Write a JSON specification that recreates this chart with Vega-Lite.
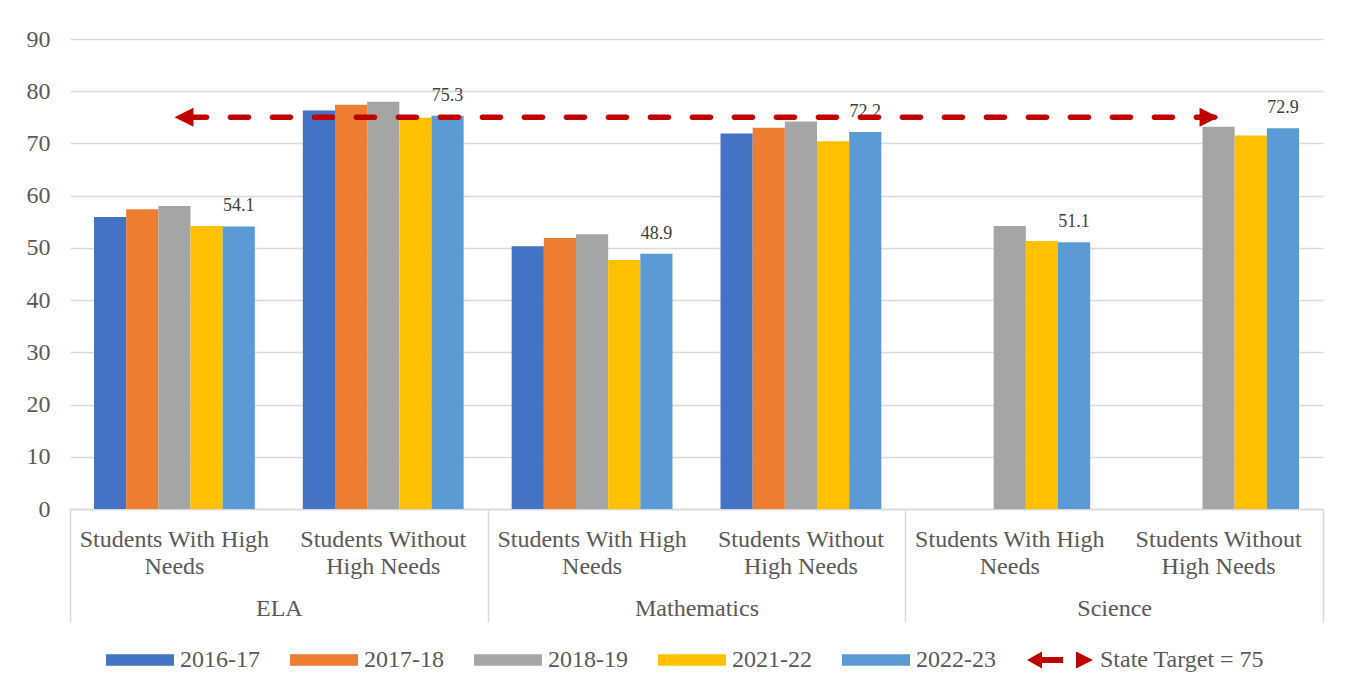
{
  "$schema": "https://vega.github.io/schema/vega-lite/v6.json",
  "width": 1253,
  "height": 470,
  "autosize": {"type": "none"},
  "padding": {"left": 70, "top": 39, "right": 30, "bottom": 181},
  "background": "white",
  "config": {
    "view": {"stroke": null},
    "font": "Liberation Serif",
    "axis": {"labelFont": "Liberation Serif", "labelColor": "#595959", "labelFontSize": 24, "title": null, "labelLimit": 400}
  },
  "datasets": {
    "scores": [
      {"subject": "ELA", "key": "ELA|Students With High|Needs", "series": "2016-17", "value": 55.9},
      {"subject": "ELA", "key": "ELA|Students With High|Needs", "series": "2017-18", "value": 57.4},
      {"subject": "ELA", "key": "ELA|Students With High|Needs", "series": "2018-19", "value": 58.0},
      {"subject": "ELA", "key": "ELA|Students With High|Needs", "series": "2021-22", "value": 54.2},
      {"subject": "ELA", "key": "ELA|Students With High|Needs", "series": "2022-23", "value": 54.1},
      {"subject": "ELA", "key": "ELA|Students Without|High Needs", "series": "2016-17", "value": 76.3},
      {"subject": "ELA", "key": "ELA|Students Without|High Needs", "series": "2017-18", "value": 77.4},
      {"subject": "ELA", "key": "ELA|Students Without|High Needs", "series": "2018-19", "value": 78.0},
      {"subject": "ELA", "key": "ELA|Students Without|High Needs", "series": "2021-22", "value": 74.9},
      {"subject": "ELA", "key": "ELA|Students Without|High Needs", "series": "2022-23", "value": 75.3},
      {"subject": "Mathematics", "key": "Mathematics|Students With High|Needs", "series": "2016-17", "value": 50.3},
      {"subject": "Mathematics", "key": "Mathematics|Students With High|Needs", "series": "2017-18", "value": 51.9},
      {"subject": "Mathematics", "key": "Mathematics|Students With High|Needs", "series": "2018-19", "value": 52.6},
      {"subject": "Mathematics", "key": "Mathematics|Students With High|Needs", "series": "2021-22", "value": 47.7},
      {"subject": "Mathematics", "key": "Mathematics|Students With High|Needs", "series": "2022-23", "value": 48.9},
      {"subject": "Mathematics", "key": "Mathematics|Students Without|High Needs", "series": "2016-17", "value": 71.9},
      {"subject": "Mathematics", "key": "Mathematics|Students Without|High Needs", "series": "2017-18", "value": 73.0},
      {"subject": "Mathematics", "key": "Mathematics|Students Without|High Needs", "series": "2018-19", "value": 74.2},
      {"subject": "Mathematics", "key": "Mathematics|Students Without|High Needs", "series": "2021-22", "value": 70.4},
      {"subject": "Mathematics", "key": "Mathematics|Students Without|High Needs", "series": "2022-23", "value": 72.2},
      {"subject": "Science", "key": "Science|Students With High|Needs", "series": "2018-19", "value": 54.2},
      {"subject": "Science", "key": "Science|Students With High|Needs", "series": "2021-22", "value": 51.3},
      {"subject": "Science", "key": "Science|Students With High|Needs", "series": "2022-23", "value": 51.1},
      {"subject": "Science", "key": "Science|Students Without|High Needs", "series": "2018-19", "value": 73.2},
      {"subject": "Science", "key": "Science|Students Without|High Needs", "series": "2021-22", "value": 71.5},
      {"subject": "Science", "key": "Science|Students Without|High Needs", "series": "2022-23", "value": 72.9}
    ],
    "target": [
      {"from": "ELA|Students With High|Needs", "to": "Science|Students Without|High Needs", "target": 75}
    ],
    "legendItems": [
      {"series": "2016-17"},
      {"series": "2017-18"},
      {"series": "2018-19"},
      {"series": "2021-22"},
      {"series": "2022-23"},
      {"series": "State Target = 75"}
    ]
  },
  "layer": [
    {
      "layer": [
        {
          "data": {"name": "scores"},
          "mark": {"type": "bar"},
          "encoding": {
            "x": {
              "field": "key",
              "type": "nominal",
              "scale": {
                "domain": ["ELA|Students With High|Needs", "ELA|Students Without|High Needs", "Mathematics|Students With High|Needs", "Mathematics|Students Without|High Needs", "Science|Students With High|Needs", "Science|Students Without|High Needs"],
                "paddingInner": 0.23,
                "paddingOuter": 0.115
              },
              "axis": {
                "orient": "bottom",
                "labelExpr": "slice(split(datum.value, '|'), 1)",
                "labelAngle": 0,
                "labelBaseline": "alphabetic",
                "labelPadding": 37,
                "labelLineHeight": 27,
                "labelLimit": 400,
                "ticks": false,
                "domain": true,
                "domainColor": "#d9d9d9",
                "domainWidth": 1.5,
                "grid": false
              }
            },
            "xOffset": {
              "field": "series",
              "type": "nominal",
              "scale": {"domain": ["2016-17", "2017-18", "2018-19", "2021-22", "2022-23"], "paddingInner": 0, "paddingOuter": 0}
            },
            "y": {
              "field": "value",
              "type": "quantitative",
              "scale": {"domain": [0, 90], "nice": false},
              "axis": {
                "values": [0, 10, 20, 30, 40, 50, 60, 70, 80, 90],
                "domain": false,
                "ticks": false,
                "labelPadding": 20,
                "gridColor": "#d9d9d9",
                "gridWidth": 1.5
              }
            },
            "color": {
              "field": "series",
              "type": "nominal",
              "scale": {
                "domain": ["2016-17", "2017-18", "2018-19", "2021-22", "2022-23", "State Target = 75"],
                "range": ["#4472C4", "#ED7D31", "#A5A5A5", "#FFC000", "#5B9BD5", "#C00000"]
              },
              "legend": {
                "orient": "none",
                "legendX": 35,
                "legendY": 586,
                "direction": "horizontal",
                "title": null,
                "symbolSize": 4624,
                "symbolOpacity": 1,
                "labelFont": "Liberation Serif",
                "labelFontSize": 24,
                "labelColor": "#595959",
                "labelOffset": 5,
                "columnPadding": 29,
                "labelLimit": 400
              }
            }
          }
        },
        {
          "data": {"name": "scores"},
          "transform": [{"filter": "datum.series == '2022-23'"}],
          "mark": {"type": "text", "baseline": "alphabetic", "dy": -15, "fontSize": 18, "font": "Liberation Serif", "color": "#404040"},
          "encoding": {
            "x": {"field": "key", "type": "nominal"},
            "xOffset": {"field": "series", "type": "nominal"},
            "y": {"field": "value", "type": "quantitative"},
            "text": {"field": "value", "type": "quantitative", "format": ".1f"}
          }
        },
        {
          "data": {"name": "target"},
          "mark": {"type": "rule", "color": "#C00000", "strokeWidth": 5.5, "strokeDash": [18, 24], "strokeDashOffset": 28, "strokeCap": "round"},
          "encoding": {
            "x": {"field": "from", "type": "nominal"},
            "x2": {"field": "to"},
            "y": {"field": "target", "type": "quantitative"}
          }
        },
        {
          "data": {"name": "target"},
          "mark": {"type": "point", "shape": "M0,0L2,-1L2,1Z", "size": 361, "filled": true, "color": "#C00000", "opacity": 1, "strokeWidth": 0},
          "encoding": {
            "x": {"field": "from", "type": "nominal"},
            "y": {"field": "target", "type": "quantitative"}
          }
        },
        {
          "data": {"name": "target"},
          "mark": {"type": "point", "shape": "M0,0L-2,-1L-2,1Z", "size": 361, "filled": true, "color": "#C00000", "opacity": 1, "strokeWidth": 0},
          "encoding": {
            "x": {"field": "to", "type": "nominal"},
            "y": {"field": "target", "type": "quantitative"}
          }
        },
        {
          "data": {"name": "legendItems"},
          "mark": {"type": "point", "filled": true, "size": 0, "opacity": 1},
          "encoding": {
            "color": {"field": "series", "type": "nominal"},
            "shape": {
              "field": "series",
              "type": "nominal",
              "scale": {
                "domain": ["2016-17", "2017-18", "2018-19", "2021-22", "2022-23", "State Target = 75"],
                "range": [
                  "M-1,-0.17H1V0.17H-1Z",
                  "M-1,-0.17H1V0.17H-1Z",
                  "M-1,-0.17H1V0.17H-1Z",
                  "M-1,-0.17H1V0.17H-1Z",
                  "M-1,-0.17H1V0.17H-1Z",
                  "M-0.97,0L-0.53,-0.25V-0.09H0.09V0.09H-0.53V0.25Z M0.47,-0.25L0.97,0L0.47,0.25Z"
                ]
              },
              "legend": {
                "orient": "none",
                "legendX": 35,
                "legendY": 586,
                "direction": "horizontal",
                "title": null,
                "symbolSize": 4624,
                "symbolOpacity": 1,
                "labelFont": "Liberation Serif",
                "labelFontSize": 24,
                "labelColor": "#595959",
                "labelOffset": 5,
                "columnPadding": 29,
                "labelLimit": 400
              }
            }
          }
        }
      ]
    },
    {
      "data": {"name": "scores"},
      "mark": {"type": "point", "opacity": 0},
      "encoding": {
        "x": {
          "field": "subject",
          "type": "nominal",
          "scale": {"domain": ["ELA", "Mathematics", "Science"], "paddingInner": 0, "paddingOuter": 0},
          "axis": {
            "orient": "bottom",
            "labelAngle": 0,
            "labelBaseline": "alphabetic",
            "tickBand": "extent",
            "ticks": true,
            "tickSize": 113,
            "tickColor": "#d9d9d9",
            "tickWidth": 1.5,
            "labelPadding": -7,
            "domain": false,
            "grid": false
          }
        }
      }
    }
  ],
  "resolve": {"scale": {"x": "independent"}, "axis": {"x": "independent"}}
}
